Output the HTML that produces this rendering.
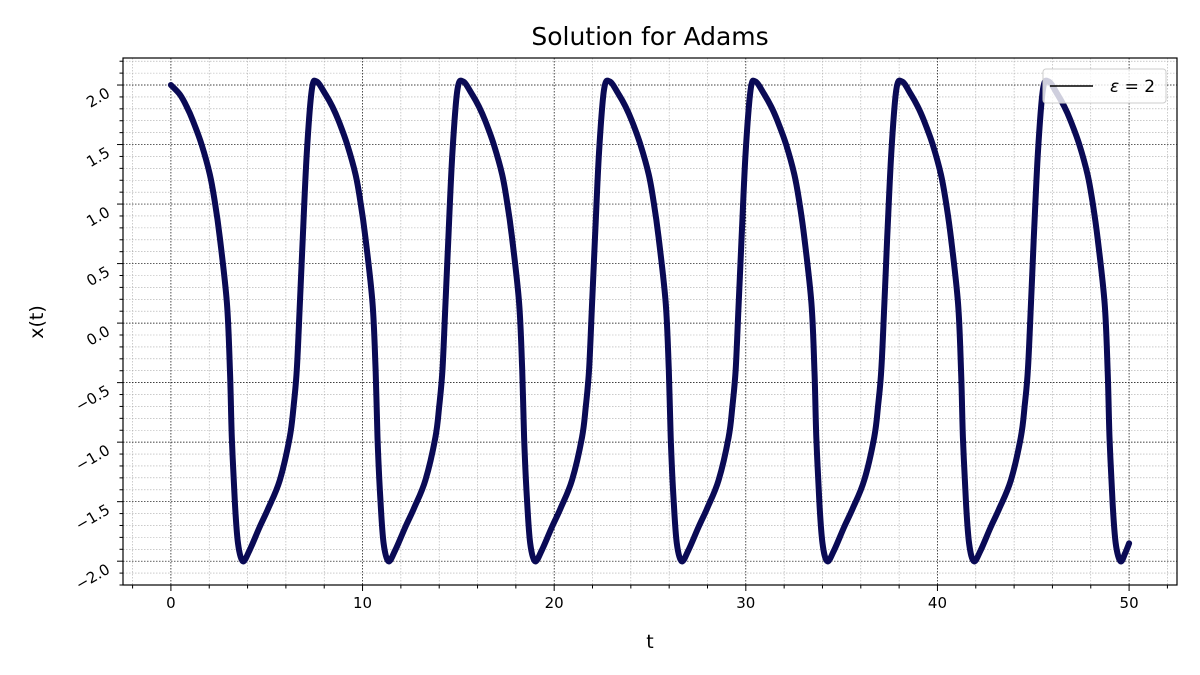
<!DOCTYPE html>
<html><head><meta charset="utf-8"><style>
body{margin:0;background:#fff}
svg{display:block;font-family:"DejaVu Sans","Liberation Sans",sans-serif}
</style></head><body>
<svg id="chart" width="1200" height="675" viewBox="0 0 1200 675" xmlns="http://www.w3.org/2000/svg"></svg>
<script>
const tValues=[0,0.47,0.82,1.15,1.6,2.03,2.29,2.55,2.92,3.08,3.18,3.34,3.5,3.75,4.1,4.64,5.1,5.68,6.2,6.4,6.57,6.73,6.88,7.09,7.35,
7.6,8.07,8.42,8.75,9.2,9.63,9.89,10.15,10.52,10.68,10.78,10.94,11.1,11.35,11.7,12.24,12.7,13.28,13.8,14.0,14.17,14.33,14.48,14.69,14.95,
15.25,15.72,16.07,16.4,16.85,17.28,17.54,17.8,18.17,18.33,18.43,18.59,18.75,19.0,19.35,19.89,20.35,20.93,21.45,21.65,21.82,21.98,22.13,22.34,22.6,
22.9,23.37,23.72,24.05,24.5,24.93,25.19,25.45,25.82,25.98,26.08,26.24,26.4,26.65,27.0,27.54,28.0,28.58,29.1,29.3,29.47,29.63,29.78,29.99,30.25,
30.5,30.97,31.32,31.65,32.1,32.53,32.79,33.05,33.42,33.58,33.68,33.84,34.0,34.25,34.6,35.14,35.6,36.18,36.7,36.9,37.07,37.23,37.38,37.59,37.85,
38.15,38.62,38.97,39.3,39.75,40.18,40.44,40.7,41.07,41.23,41.33,41.49,41.65,41.9,42.25,42.79,43.25,43.83,44.35,44.55,44.72,44.88,45.03,45.24,45.5,
45.8,46.27,46.62,46.95,47.4,47.83,48.09,48.35,48.72,48.88,48.98,49.14,49.3,49.55,49.8,50.0];
const xValues=[2.0,1.92,1.82,1.70,1.50,1.25,1.02,0.72,0.17,-0.39,-0.96,-1.51,-1.85,-2.0,-1.91,-1.71,-1.55,-1.32,-0.96,-0.7,-0.39,0.17,0.72,1.43,1.96,
2.03,1.92,1.82,1.70,1.50,1.25,1.02,0.72,0.17,-0.39,-0.96,-1.51,-1.85,-2.0,-1.91,-1.71,-1.55,-1.32,-0.96,-0.7,-0.39,0.17,0.72,1.43,1.96,
2.03,1.92,1.82,1.70,1.50,1.25,1.02,0.72,0.17,-0.39,-0.96,-1.51,-1.85,-2.0,-1.91,-1.71,-1.55,-1.32,-0.96,-0.7,-0.39,0.17,0.72,1.43,1.96,
2.03,1.92,1.82,1.70,1.50,1.25,1.02,0.72,0.17,-0.39,-0.96,-1.51,-1.85,-2.0,-1.91,-1.71,-1.55,-1.32,-0.96,-0.7,-0.39,0.17,0.72,1.43,1.96,
2.03,1.92,1.82,1.70,1.50,1.25,1.02,0.72,0.17,-0.39,-0.96,-1.51,-1.85,-2.0,-1.91,-1.71,-1.55,-1.32,-0.96,-0.7,-0.39,0.17,0.72,1.43,1.96,
2.03,1.92,1.82,1.70,1.50,1.25,1.02,0.72,0.17,-0.39,-0.96,-1.51,-1.85,-2.0,-1.91,-1.71,-1.55,-1.32,-0.96,-0.7,-0.39,0.17,0.72,1.43,1.96,
2.03,1.92,1.82,1.70,1.50,1.25,1.02,0.72,0.17,-0.39,-0.96,-1.51,-1.85,-2.0,-1.93,-1.85];
const xTicks=[0,10,20,30,40,50];
const yTicks=[-2.0,-1.5,-1.0,-0.5,0.0,0.5,1.0,1.5,2.0];
const yTickLabels=["\u22122.0","\u22121.5","\u22121.0","\u22120.5","0.0","0.5","1.0","1.5","2.0"];

const svg=document.getElementById('chart');
const NS='http://www.w3.org/2000/svg';
const L=123,R=1177,T=58,B=585;
const xmin=-2.5,xmax=52.5,ymin=-2.2,ymax=2.227;
const sx=v=>L+(v-xmin)/(xmax-xmin)*(R-L);
const sy=v=>B-(v-ymin)/(ymax-ymin)*(B-T);
function mk(tag,attrs,parent){const e=document.createElementNS(NS,tag);for(const k in attrs)e.setAttribute(k,attrs[k]);(parent||svg).appendChild(e);return e;}

const grid=mk('g',{});


for(let v=-2;v<=52;v+=2){const x=sx(v);if(xTicks.includes(v))continue;mk('line',{x1:x,x2:x,y1:T,y2:B,stroke:'#aaa','stroke-width':0.6,'stroke-dasharray':'1.5,1.5'},grid);}
for(let i=-22;i<=22;i++){const v=i/10;if(i%5===0)continue;const y=sy(v);mk('line',{x1:L,x2:R,y1:y,y2:y,stroke:'#aaa','stroke-width':0.6,'stroke-dasharray':'1.5,1.5'},grid);}
xTicks.forEach(v=>{const x=sx(v);mk('line',{x1:x,x2:x,y1:T,y2:B,stroke:'#000','stroke-width':0.7,'stroke-dasharray':'1.5,1.5'},grid);});
yTicks.forEach(v=>{const y=sy(v);mk('line',{x1:L,x2:R,y1:y,y2:y,stroke:'#000','stroke-width':0.7,'stroke-dasharray':'1.5,1.5'},grid);});

const P=tValues.map((t,i)=>[sx(t),sy(xValues[i])]);
let d='M'+P[0][0].toFixed(1)+','+P[0][1].toFixed(1);
for(let i=0;i<P.length-1;i++){
  const p0=P[Math.max(0,i-1)],p1=P[i],p2=P[i+1],p3=P[Math.min(P.length-1,i+2)];
  const c1=[p1[0]+(p2[0]-p0[0])/6,p1[1]+(p2[1]-p0[1])/6];
  const c2=[p2[0]-(p3[0]-p1[0])/6,p2[1]-(p3[1]-p1[1])/6];
  d+='C'+c1[0].toFixed(1)+','+c1[1].toFixed(1)+' '+c2[0].toFixed(1)+','+c2[1].toFixed(1)+' '+p2[0].toFixed(1)+','+p2[1].toFixed(1);
}
const line=mk('path',{d:d,fill:'none',stroke:'#0a0a55','stroke-width':6,'stroke-linejoin':'round','stroke-linecap':'round'});



const ax=mk('rect',{x:L,y:T,width:R-L,height:B-T,fill:'none',stroke:'#000','stroke-width':1.2});



for(let v=-2;v<=52;v+=2){const x=sx(v);mk('line',{x1:x,x2:x,y1:B,y2:B+(xTicks.includes(v)?6:3.5),stroke:'#000','stroke-width':1});}
for(let i=-22;i<=22;i++){const y=sy(i/10);mk('line',{x1:L,x2:L-(i%5===0?6:3.5),y1:y,y2:y,stroke:'#000','stroke-width':1});}
xTicks.forEach(v=>{const t=mk('text',{x:sx(v),y:B+23,'font-size':15,'text-anchor':'middle'});t.textContent=v;

});
yTicks.forEach((v,i)=>{const x=L-12,y=sy(v)+11;const t=mk('text',{x:x,y:y,'font-size':15,'text-anchor':'end',transform:`rotate(-30 ${x} ${y})`});t.textContent=yTickLabels[i];

});

const title=mk('text',{x:650,y:45,'font-size':25,'text-anchor':'middle'});title.textContent='Solution for Adams';


const xl=mk('text',{x:650,y:648,'font-size':19,'text-anchor':'middle'});xl.textContent='t';


const yl=mk('text',{x:43,y:322,'font-size':19,'text-anchor':'middle',transform:'rotate(-90 43 322)'});yl.textContent='x(t)';



const lg=mk('g',{});


mk('rect',{x:1043,y:69,width:123,height:34,rx:3,fill:'#fff','fill-opacity':0.8,stroke:'#ccc'},lg);
mk('line',{x1:1050,x2:1093,y1:86,y2:86,stroke:'#000','stroke-width':1.5},lg);
const lt=mk('text',{x:1110,y:92,'font-size':17},lg);lt.innerHTML='<tspan font-style="italic">ε</tspan> = 2';


</script>
</body></html>
